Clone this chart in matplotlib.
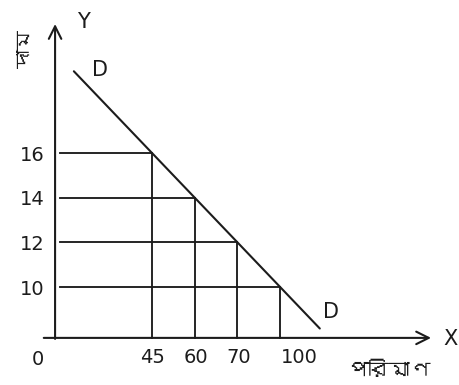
import numpy as np
import matplotlib
matplotlib.use("Agg")
import matplotlib.pyplot as plt
from matplotlib import font_manager
from matplotlib.ft2font import FT2Font

# Demand schedule: price and quantity demanded
price = [16, 14, 12, 10]
quantity = [45, 60, 70, 100]
price_ticks = ["16", "14", "12", "10"]
quantity_ticks = ["45", "60", "70", "100"]
x_title = "পরিমাণ"
y_title = "দাম"


def find_bengali_family():
    for f in font_manager.fontManager.ttflist:
        try:
            cmap = FT2Font(f.fname).get_charmap()
        except Exception:
            continue
        if 0x09AA in cmap and 0x09AE in cmap:
            return f.name
    return None


beng = find_bengali_family()
beng_family = [beng, "DejaVu Sans"] if beng else ["DejaVu Sans"]

W, H = 459, 385
fig = plt.figure(figsize=(W / 100, H / 100), dpi=100)
ax = fig.add_axes([0, 0, 1, 1])
ax.set_axis_off()

# quantities are drawn at evenly spaced positions along the axis
xpos = np.arange(len(quantity))
px_per_x = 42.7
px_per_y = 22.33
x0px, y0px = 152, 153  # pixel position of the first schedule point
ax.set_xlim((0 - x0px) / px_per_x, (W - x0px) / px_per_x)
ax.set_ylim(16 - (H - y0px) / px_per_y, 16 + y0px / px_per_y)


def px(x, y):
    """Pixel location -> data coordinates."""
    return (x - x0px) / px_per_x, 16 + (y0px - y) / px_per_y


ink = "#1c1c1c"
lw = 1.5

x_axis_y = 7.72
y_axis_x = -2.27

# axes with open arrow heads
ax.annotate("", xy=(y_axis_x, 21.9), xytext=(y_axis_x, 7.55),
            arrowprops=dict(arrowstyle="->,head_length=0.9,head_width=0.45",
                            color=ink, lw=lw))
ax.annotate("", xy=(6.6, x_axis_y), xytext=(-2.6, x_axis_y),
            arrowprops=dict(arrowstyle="->,head_length=0.9,head_width=0.45",
                            color=ink, lw=lw))

# demand curve, extended past the schedule points
slope, icpt = np.polyfit(xpos, price, 1)
xl = np.array([-1.83, 3.93])
ax.plot(xl, slope * xl + icpt, color=ink, lw=lw, solid_capstyle="round")

# guide lines from each schedule point to the axes
for xi, p in zip(xpos, price):
    ax.plot([y_axis_x + 0.12, xi], [p, p], color=ink, lw=lw * 0.9)
    ax.plot([xi, xi], [x_axis_y, p], color=ink, lw=lw * 0.9)

tick_font = dict(fontsize=14, color=ink, family="DejaVu Sans")
for p, lab in zip(price, price_ticks):
    ax.text(-2.8, p - 0.1, lab, ha="center", va="center", **tick_font)
for xi, lab in zip(xpos, quantity_ticks):
    ax.text(xi + 0.02 + 0.25 * (len(lab) - 2) * 1.75, 6.85, lab,
            ha="center", va="center", **tick_font)
ax.text(*px(38, 359), "0", ha="center", va="center", **tick_font)

ax.text(*px(83, 22), "Y", ha="center", va="center", fontsize=15, color=ink)
ax.text(*px(451, 339), "X", ha="center", va="center", fontsize=15, color=ink)
ax.text(*px(100, 70), "D", ha="center", va="center", fontsize=15, color=ink)
ax.text(*px(331, 312), "D", ha="center", va="center", fontsize=15, color=ink)

ax.text(*px(389, 371), x_title, ha="center", va="center", fontsize=15,
        color=ink, family=beng_family)
ax.text(*px(26, 48), y_title, ha="center", va="center", fontsize=14,
        color=ink, rotation=90, family=beng_family)

fig.savefig("out.png", dpi=100, facecolor="white")
